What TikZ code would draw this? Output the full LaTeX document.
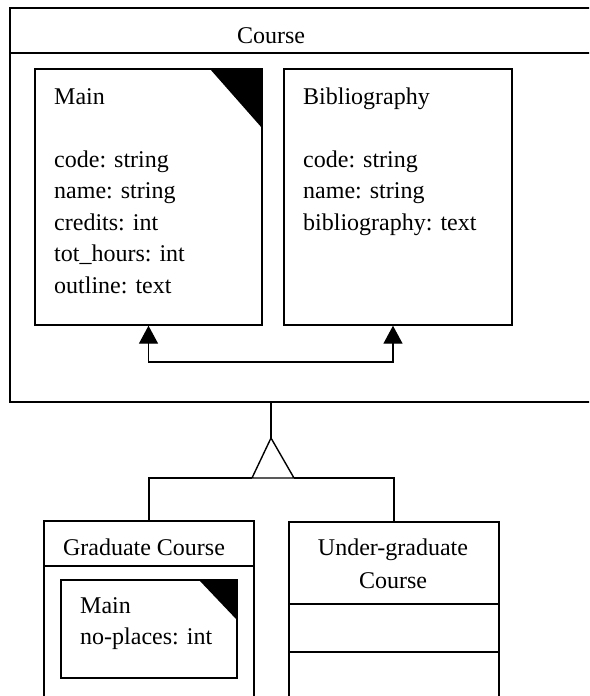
\documentclass[tikz,border=0pt]{standalone}
\usepackage{fontspec}
\setmainfont{Liberation Serif}
\usetikzlibrary{arrows.meta}
\newcommand{\linesL}[1]{\begin{tabular}[t]{@{}l@{}}#1\end{tabular}}
\newcommand{\linesC}[1]{\begin{tabular}[t]{@{}c@{}}#1\end{tabular}}
\begin{document}
\begin{tikzpicture}[x=1pt,y=-1pt,
  box/.style={draw, line width=1.4pt, rectangle, inner sep=0pt},
  lbl/.style={inner sep=0pt, font=\fontsize{24}{31.5}\selectfont},
  conn/.style={line width=1.4pt},
  tip/.style={-{Triangle[width=19pt,length=18pt]}}
]
\useasboundingbox (0,0) rectangle (589,696);
\clip (0,0) rectangle (589,696);
% Course package
\node[box, line width=1.8pt, minimum width=630pt, minimum height=394pt] (course) at (325,205) {};
\coordinate (hdrL) at (10,53);
\coordinate (hdrR) at (640,53);
\draw[line width=1.8pt] (hdrL) -- (hdrR);
\node[lbl, anchor=base] (coursetitle) at (271,43.5) {Course};
% Main
\node[box, minimum width=227pt, minimum height=256pt] (mainbox) at (148.5,197) {};
\fill (210,69) -- (262,69) -- (262,128) -- cycle;
\node[lbl, anchor=base west] (maintext) at (54,104) {\linesL{Main\\[31.5pt]code: string\\name: string\\credits: int\\tot\_hours: int\\outline: text}};
% Bibliography
\node[box, minimum width=228pt, minimum height=256pt] (bibbox) at (398,197) {};
\node[lbl, anchor=base west] (bibtext) at (303,104) {\linesL{Bibliography\\[31.5pt]code: string\\name: string\\bibliography: text}};
% arrows
\coordinate (mid) at (271,362);
\draw[conn, tip] (mid) -| (mainbox.south);
\draw[conn, tip] (mid) -| ([xshift=-5pt]bibbox.south);
% generalization
\coordinate (apex) at (271,438);
\coordinate (baseL) at (252,478);
\coordinate (baseR) at (294,478);
\draw[conn] (course.south -| apex) -- (apex);
\draw[conn, line join=miter] (apex) -- (baseR) -- (baseL) -- cycle;
% Graduate Course
\node[box, minimum width=210pt, minimum height=200pt] (grad) at (149,621) {};
\draw[conn] (grad.north west |- 0,566) -- (grad.north east |- 0,566);
\node[lbl, anchor=base] (gradtitle) at (144,555) {Graduate Course};
\node[box, minimum width=176pt, minimum height=98pt] (inner) at (149,629) {};
\fill (199,580) -- (237,580) -- (237,620) -- cycle;
\node[lbl, anchor=base west] (innertext) at (80,613) {\linesL{Main\\no-places: int}};
% Under-graduate Course
\node[box, minimum width=210pt, minimum height=200pt] (under) at (394,622) {};
\draw[conn] (under.north west |- 0,604) -- (under.north east |- 0,604);
\draw[conn] (under.north west |- 0,652) -- (under.north east |- 0,652);
\node[lbl, anchor=base, font=\fontsize{24}{33}\selectfont] (undertitle) at (393,555) {\linesC{Under-graduate\\Course}};
% generalization branches
\draw[conn] (baseL) -| (grad.north);
\draw[conn] (baseR) -| (under.north);
\end{tikzpicture}
\end{document}
